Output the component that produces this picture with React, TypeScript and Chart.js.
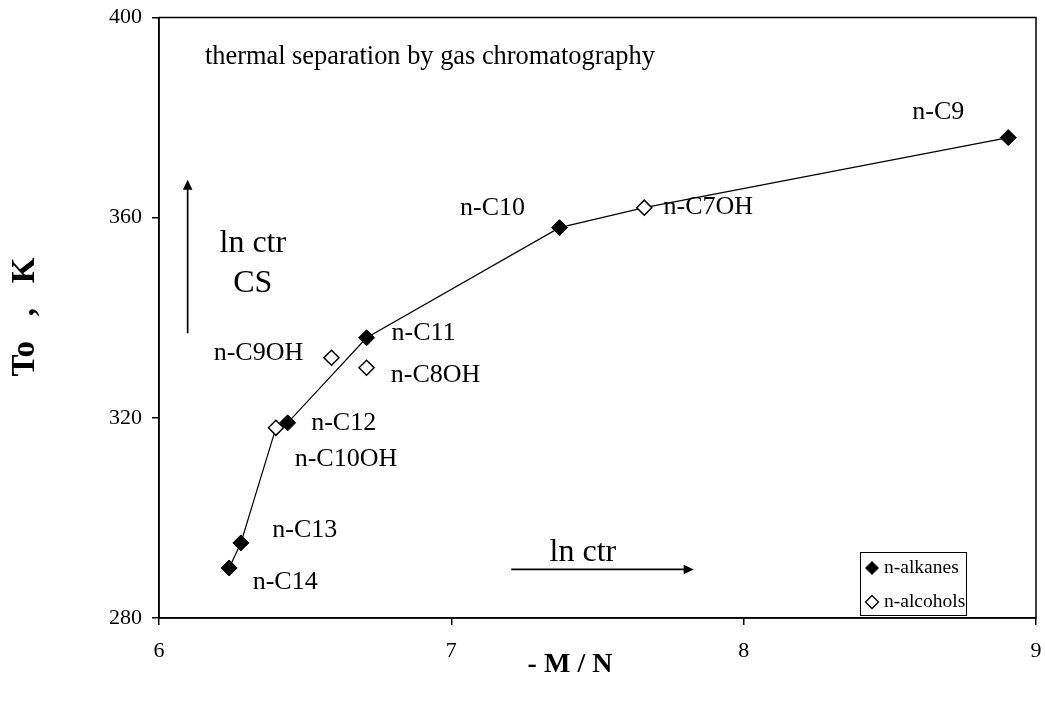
import React, { useEffect, useRef } from "react";
import { Chart, registerables } from "chart.js";

Chart.register(...registerables);

const FONT = "'Liberation Serif', 'Times New Roman', serif";

// ---- data ----
const alkaneNames = ["n-C9", "n-C10", "n-C11", "n-C12", "n-C13", "n-C14"];
const alkaneX = [8.905, 7.37, 6.71, 6.44, 6.28, 6.24];
const alkaneY = [376, 358, 336, 319, 295, 290];

const alcoholNames = ["n-C7OH", "n-C8OH", "n-C9OH", "n-C10OH"];
const alcoholX = [7.66, 6.71, 6.59, 6.4];
const alcoholY = [362, 330, 332, 318];

// order of the connecting line through the points
const lineOrder = ["n-C14", "n-C13", "n-C10OH", "n-C12", "n-C11", "n-C10", "n-C7OH", "n-C9"];

const xTicks = [6, 7, 8, 9];
const yTicks = [280, 320, 360, 400];

const seriesLabels = ["n-alkanes", "n-alcohols"];
const chartNote = "thermal separation by gas chromatography";
const xTitle = "- M / N";
const yTitle = "To   ,   K";

// label offsets (pixels, relative to the point)
const labelOffsets: Record<string, [number, number]> = {
  "n-C9": [-70, -25],
  "n-C10": [-67, -20],
  "n-C11": [57, -5],
  "n-C12": [56, 0],
  "n-C13": [64, -13],
  "n-C14": [56, 14],
  "n-C7OH": [64, 0],
  "n-C8OH": [69, 7],
  "n-C9OH": [-73, -5],
  "n-C10OH": [70, 31],
};

function drawArrow(ctx: CanvasRenderingContext2D, x1: number, y1: number, x2: number, y2: number) {
  const ang = Math.atan2(y2 - y1, x2 - x1);
  const hl = 10;
  const hw = 4.8;
  ctx.beginPath();
  ctx.moveTo(x1, y1);
  ctx.lineTo(x2 - Math.cos(ang) * hl * 0.8, y2 - Math.sin(ang) * hl * 0.8);
  ctx.lineWidth = 1.7;
  ctx.strokeStyle = "#000";
  ctx.stroke();
  ctx.beginPath();
  ctx.moveTo(x2, y2);
  ctx.lineTo(x2 - Math.cos(ang) * hl - Math.sin(ang) * hw, y2 - Math.sin(ang) * hl + Math.cos(ang) * hw);
  ctx.lineTo(x2 - Math.cos(ang) * hl + Math.sin(ang) * hw, y2 - Math.sin(ang) * hl - Math.cos(ang) * hw);
  ctx.closePath();
  ctx.fillStyle = "#000";
  ctx.fill();
}

function diamond(ctx: CanvasRenderingContext2D, cx: number, cy: number, r: number, filled: boolean) {
  ctx.beginPath();
  ctx.moveTo(cx, cy - r);
  ctx.lineTo(cx + r, cy);
  ctx.lineTo(cx, cy + r);
  ctx.lineTo(cx - r, cy);
  ctx.closePath();
  if (filled) {
    ctx.fillStyle = "#000";
    ctx.fill();
  } else {
    ctx.fillStyle = "#fff";
    ctx.fill();
    ctx.lineWidth = 1.3;
    ctx.strokeStyle = "#000";
    ctx.stroke();
  }
}

const annotPlugin = {
  id: "annot",
  afterDraw(chart: any) {
    const { ctx, chartArea: a } = chart;
    const xs = chart.scales.x;
    const ys = chart.scales.y;
    ctx.save();
    // frame
    ctx.strokeStyle = "#000";
    ctx.lineWidth = 1.5;
    ctx.strokeRect(a.left, a.top, a.right - a.left, a.bottom - a.top);

    // point labels
    ctx.fillStyle = "#000";
    ctx.font = `26px ${FONT}`;
    ctx.textAlign = "center";
    ctx.textBaseline = "middle";
    const pts: [string, number, number][] = [
      ...alkaneNames.map((n, i) => [n, alkaneX[i], alkaneY[i]] as [string, number, number]),
      ...alcoholNames.map((n, i) => [n, alcoholX[i], alcoholY[i]] as [string, number, number]),
    ];
    for (const [n, vx, vy] of pts) {
      const [dx, dy] = labelOffsets[n];
      ctx.fillText(n, xs.getPixelForValue(vx) + dx, ys.getPixelForValue(vy) + dy);
    }

    // note
    ctx.textAlign = "left";
    ctx.font = `26.4px ${FONT}`;
    ctx.fillText(chartNote, xs.getPixelForValue(6.157), ys.getPixelForValue(392.1));

    // ln ctr / CS
    ctx.font = `32px ${FONT}`;
    ctx.textAlign = "center";
    ctx.fillText("ln ctr", xs.getPixelForValue(6.321), ys.getPixelForValue(354.9));
    ctx.fillText("CS", xs.getPixelForValue(6.321), ys.getPixelForValue(346.9));
    ctx.fillText("ln ctr", xs.getPixelForValue(7.45), ys.getPixelForValue(293.1));

    // arrows
    drawArrow(ctx, xs.getPixelForValue(6.098), ys.getPixelForValue(336.9), xs.getPixelForValue(6.098), ys.getPixelForValue(367.6));
    drawArrow(ctx, xs.getPixelForValue(7.205), ys.getPixelForValue(289.7), xs.getPixelForValue(7.829), ys.getPixelForValue(289.7));

    // axis titles
    ctx.font = `bold 28px ${FONT}`;
    ctx.textAlign = "center";
    ctx.fillText(xTitle, 570, 665);
    ctx.save();
    ctx.translate(25, 317);
    ctx.rotate(-Math.PI / 2);
    ctx.font = `bold 33px ${FONT}`;
    ctx.fillText(yTitle, 0, 0);
    ctx.restore();

    // legend
    const lx = 860;
    const ly = 552;
    const lw = 106;
    const lh = 63;
    ctx.fillStyle = "#fff";
    ctx.fillRect(lx, ly, lw, lh);
    ctx.lineWidth = 1;
    ctx.strokeStyle = "#000";
    ctx.strokeRect(lx + 0.5, ly + 0.5, lw, lh);
    ctx.font = `19.5px ${FONT}`;
    ctx.textAlign = "left";
    ctx.textBaseline = "middle";
    diamond(ctx, lx + 12, ly + 16, 7, true);
    ctx.fillStyle = "#000";
    ctx.fillText(seriesLabels[0], lx + 24, ly + 16);
    diamond(ctx, lx + 12, ly + 50, 6.5, false);
    ctx.fillStyle = "#000";
    ctx.fillText(seriesLabels[1], lx + 24, ly + 50);
    ctx.restore();
  },
};

export default function App() {
  const ref = useRef<HTMLCanvasElement>(null);
  useEffect(() => {
    const canvas = ref.current;
    if (!canvas) return;
    const find = (n: string): { x: number; y: number } => {
      const i = alkaneNames.indexOf(n);
      if (i >= 0) return { x: alkaneX[i], y: alkaneY[i] };
      const j = alcoholNames.indexOf(n);
      return { x: alcoholX[j], y: alcoholY[j] };
    };
    const tickFont = { family: FONT, size: 22 };
    const zeroPad = (s: any) => {
      s.paddingLeft = 0;
      s.paddingRight = 0;
      s.paddingTop = 0;
      s.paddingBottom = 0;
      s.getPadding = () => ({ left: 0, right: 0, top: 0, bottom: 0 });
    };
    const chart = new Chart(canvas, {
      type: "scatter",
      data: {
        datasets: [
          {
            label: "line",
            data: lineOrder.map(find),
            showLine: true,
            borderColor: "#000",
            borderWidth: 1.2,
            pointRadius: 0,
            order: 10,
          },
          {
            label: seriesLabels[0],
            data: alkaneX.map((x, i) => ({ x, y: alkaneY[i] })),
            pointStyle: "rectRot",
            pointRadius: 8,
            backgroundColor: "#000",
            borderColor: "#000",
            borderWidth: 1,
            order: 1,
          },
          {
            label: seriesLabels[1],
            data: alcoholX.map((x, i) => ({ x, y: alcoholY[i] })),
            pointStyle: "rectRot",
            pointRadius: 7.5,
            backgroundColor: "#fff",
            borderColor: "#000",
            borderWidth: 1.5,
            order: 0,
          },
        ],
      },
      options: {
        responsive: false,
        animation: false,
        devicePixelRatio: 1,
        layout: { padding: { top: 17.5, right: 6, left: 0, bottom: 0 } },
        plugins: {
          legend: { display: false },
          tooltip: { enabled: false },
        },
        scales: {
          x: {
            type: "linear",
            min: 6,
            max: 9,
            afterBuildTicks: (s: any) => {
              s.ticks = xTicks.map((v) => ({ value: v }));
            },
            afterFit: (s: any) => {
              s.height = 85;
              zeroPad(s);
            },
            ticks: { font: tickFont, color: "#000", padding: 13 },
            grid: { drawOnChartArea: false, drawTicks: true, tickLength: 7, color: "#000", lineWidth: 1.5 },
            border: { color: "#000", width: 1.5 },
            title: { display: false },
          },
          y: {
            type: "linear",
            min: 280,
            max: 400,
            afterBuildTicks: (s: any) => {
              s.ticks = yTicks.map((v) => ({ value: v }));
            },
            afterFit: (s: any) => {
              s.width = 159;
              zeroPad(s);
            },
            ticks: { font: tickFont, color: "#000", padding: 10 },
            grid: { drawOnChartArea: false, drawTicks: true, tickLength: 7, color: "#000", lineWidth: 1.5 },
            border: { color: "#000", width: 1.5 },
            title: { display: false },
          },
        },
      },
      plugins: [annotPlugin],
    });
    return () => chart.destroy();
  }, []);
  return (
    <div style={{ position: "fixed", left: 0, top: 0, width: 1045, height: 703, background: "#fff" }}>
      <canvas ref={ref} width={1045} height={703} style={{ display: "block" }} />
    </div>
  );
}
